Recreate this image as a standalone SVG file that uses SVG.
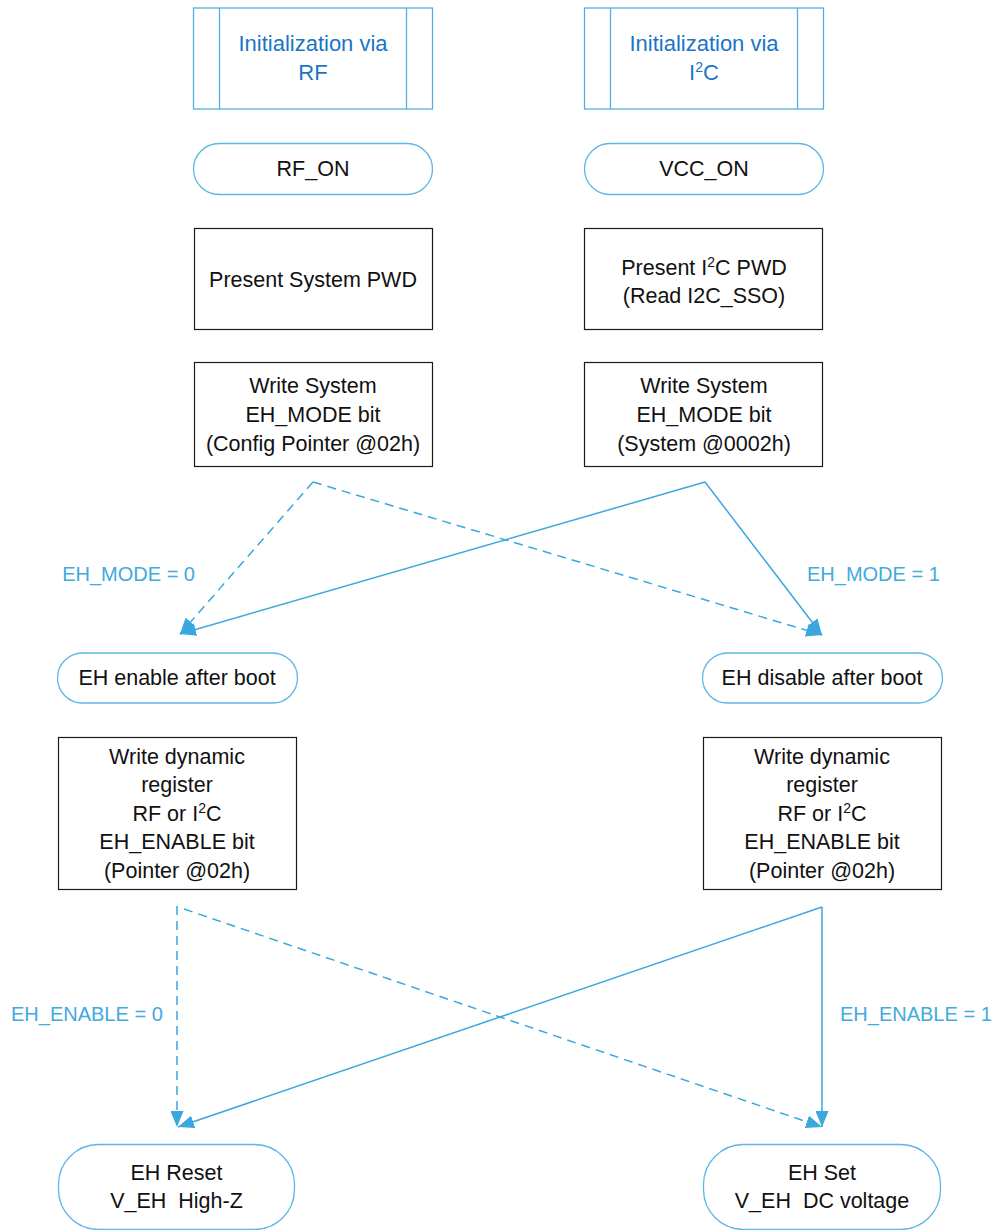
<svg xmlns="http://www.w3.org/2000/svg" width="996" height="1230" viewBox="0 0 996 1230">
<style>
text{font-family:"Liberation Sans",Arial,sans-serif;font-size:21.5px;fill:#111;text-anchor:middle}
.title{fill:#1A75C6;font-size:22px}
.lbl{fill:#41AAE0;font-size:20px}
.start{text-anchor:start}
.end{text-anchor:end}
.sub{fill:#fff;stroke:#56AEE0;stroke-width:1.3}
.term{fill:#fff;stroke:#5CB6E6;stroke-width:1.3}
.proc{fill:#fff;stroke:#1a1a1a;stroke-width:1.2}
.conn{fill:none;stroke:#3AA7DE;stroke-width:1.5}
.dash{stroke-dasharray:9 6}
</style>
<defs>
<marker id="ah" markerUnits="userSpaceOnUse" markerWidth="17" markerHeight="13" refX="16" refY="6.5" orient="auto">
<path d="M0,0 L16,6.5 L0,13 z" fill="#3AA7DE"/>
</marker>
</defs>
<rect width="996" height="1230" fill="#fff"/>

<g id="init-rf">
<rect class="sub" x="193.5" y="8" width="239" height="101"/>
<line class="sub" x1="219.5" y1="8" x2="219.5" y2="109"/>
<line class="sub" x1="406.5" y1="8" x2="406.5" y2="109"/>
<text class="title" x="313" y="51">Initialization via</text>
<text class="title" x="313" y="80">RF</text>
</g>
<g id="init-i2c">
<rect class="sub" x="584.5" y="8" width="239" height="101"/>
<line class="sub" x1="610.5" y1="8" x2="610.5" y2="109"/>
<line class="sub" x1="797.5" y1="8" x2="797.5" y2="109"/>
<text class="title" x="704" y="51">Initialization via</text>
<text class="title" x="704" y="80">I<tspan font-size="14" dy="-8">2</tspan><tspan dy="8">C</tspan></text>
</g>

<g id="rf-on">
<rect class="term" x="193.5" y="143.5" width="239" height="51" rx="25.5"/>
<text x="313" y="176">RF_ON</text>
</g>
<g id="vcc-on">
<rect class="term" x="584.5" y="143.5" width="239" height="51" rx="25.5"/>
<text x="704" y="176">VCC_ON</text>
</g>

<g id="present-sys">
<rect class="proc" x="194.5" y="228.5" width="238" height="101"/>
<text x="313" y="287">Present System PWD</text>
</g>
<g id="present-i2c">
<rect class="proc" x="584.5" y="228.5" width="238" height="101"/>
<text x="704" y="275">Present I<tspan font-size="14" dy="-8">2</tspan><tspan dy="8">C PWD</tspan></text>
<text x="704" y="303">(Read I2C_SSO)</text>
</g>

<g id="write-sys-rf">
<rect class="proc" x="194.5" y="362.5" width="238" height="104"/>
<text x="313" y="393">Write System</text>
<text x="313" y="422">EH_MODE bit</text>
<text x="313" y="451">(Config Pointer @02h)</text>
</g>
<g id="write-sys-i2c">
<rect class="proc" x="584.5" y="362.5" width="238" height="104"/>
<text x="704" y="393">Write System</text>
<text x="704" y="422">EH_MODE bit</text>
<text x="704" y="451">(System @0002h)</text>
</g>

<g id="eh-enable">
<rect class="term" x="57.5" y="653" width="240" height="50" rx="25"/>
<text x="177" y="685">EH enable after boot</text>
</g>
<g id="eh-disable">
<rect class="term" x="702.5" y="653" width="240" height="50" rx="25"/>
<text x="822" y="685">EH disable after boot</text>
</g>

<g id="write-dyn-left">
<rect class="proc" x="58.5" y="737.5" width="238" height="152"/>
<text x="177" y="764">Write dynamic</text>
<text x="177" y="792">register</text>
<text x="177" y="821">RF or I<tspan font-size="14" dy="-8">2</tspan><tspan dy="8">C</tspan></text>
<text x="177" y="849">EH_ENABLE bit</text>
<text x="177" y="878">(Pointer @02h)</text>
</g>
<g id="write-dyn-right">
<rect class="proc" x="703.5" y="737.5" width="238" height="152"/>
<text x="822" y="764">Write dynamic</text>
<text x="822" y="792">register</text>
<text x="822" y="821">RF or I<tspan font-size="14" dy="-8">2</tspan><tspan dy="8">C</tspan></text>
<text x="822" y="849">EH_ENABLE bit</text>
<text x="822" y="878">(Pointer @02h)</text>
</g>

<g id="eh-reset">
<rect class="term" x="58.5" y="1144.5" width="236" height="85" rx="40" ry="40"/>
<text x="176.5" y="1180">EH Reset</text>
<text x="176.5" y="1208" xml:space="preserve">V_EH  High-Z</text>
</g>
<g id="eh-set">
<rect class="term" x="703.5" y="1144.5" width="237" height="85" rx="40" ry="40"/>
<text x="822" y="1180">EH Set</text>
<text x="822" y="1208" xml:space="preserve">V_EH  DC voltage</text>
</g>

<g id="connectors">
<line class="conn dash" x1="313" y1="482" x2="180" y2="634" marker-end="url(#ah)"/>
<line class="conn dash" x1="313" y1="482" x2="822" y2="635" marker-end="url(#ah)"/>
<line class="conn" x1="705" y1="482" x2="180" y2="634" marker-end="url(#ah)"/>
<line class="conn" x1="705" y1="482" x2="822" y2="635" marker-end="url(#ah)"/>
<line class="conn dash" x1="177" y1="906" x2="177" y2="1127" marker-end="url(#ah)"/>
<line class="conn dash" x1="184" y1="909" x2="822" y2="1127" marker-end="url(#ah)"/>
<line class="conn" x1="822" y1="907" x2="178" y2="1127" marker-end="url(#ah)"/>
<line class="conn" x1="822" y1="907" x2="822" y2="1127" marker-end="url(#ah)"/>
<text class="lbl end" x="195" y="581">EH_MODE = 0</text>
<text class="lbl start" x="807" y="581">EH_MODE = 1</text>
<text class="lbl start" x="11" y="1021">EH_ENABLE = 0</text>
<text class="lbl start" x="840" y="1021">EH_ENABLE = 1</text>
</g>
</svg>
